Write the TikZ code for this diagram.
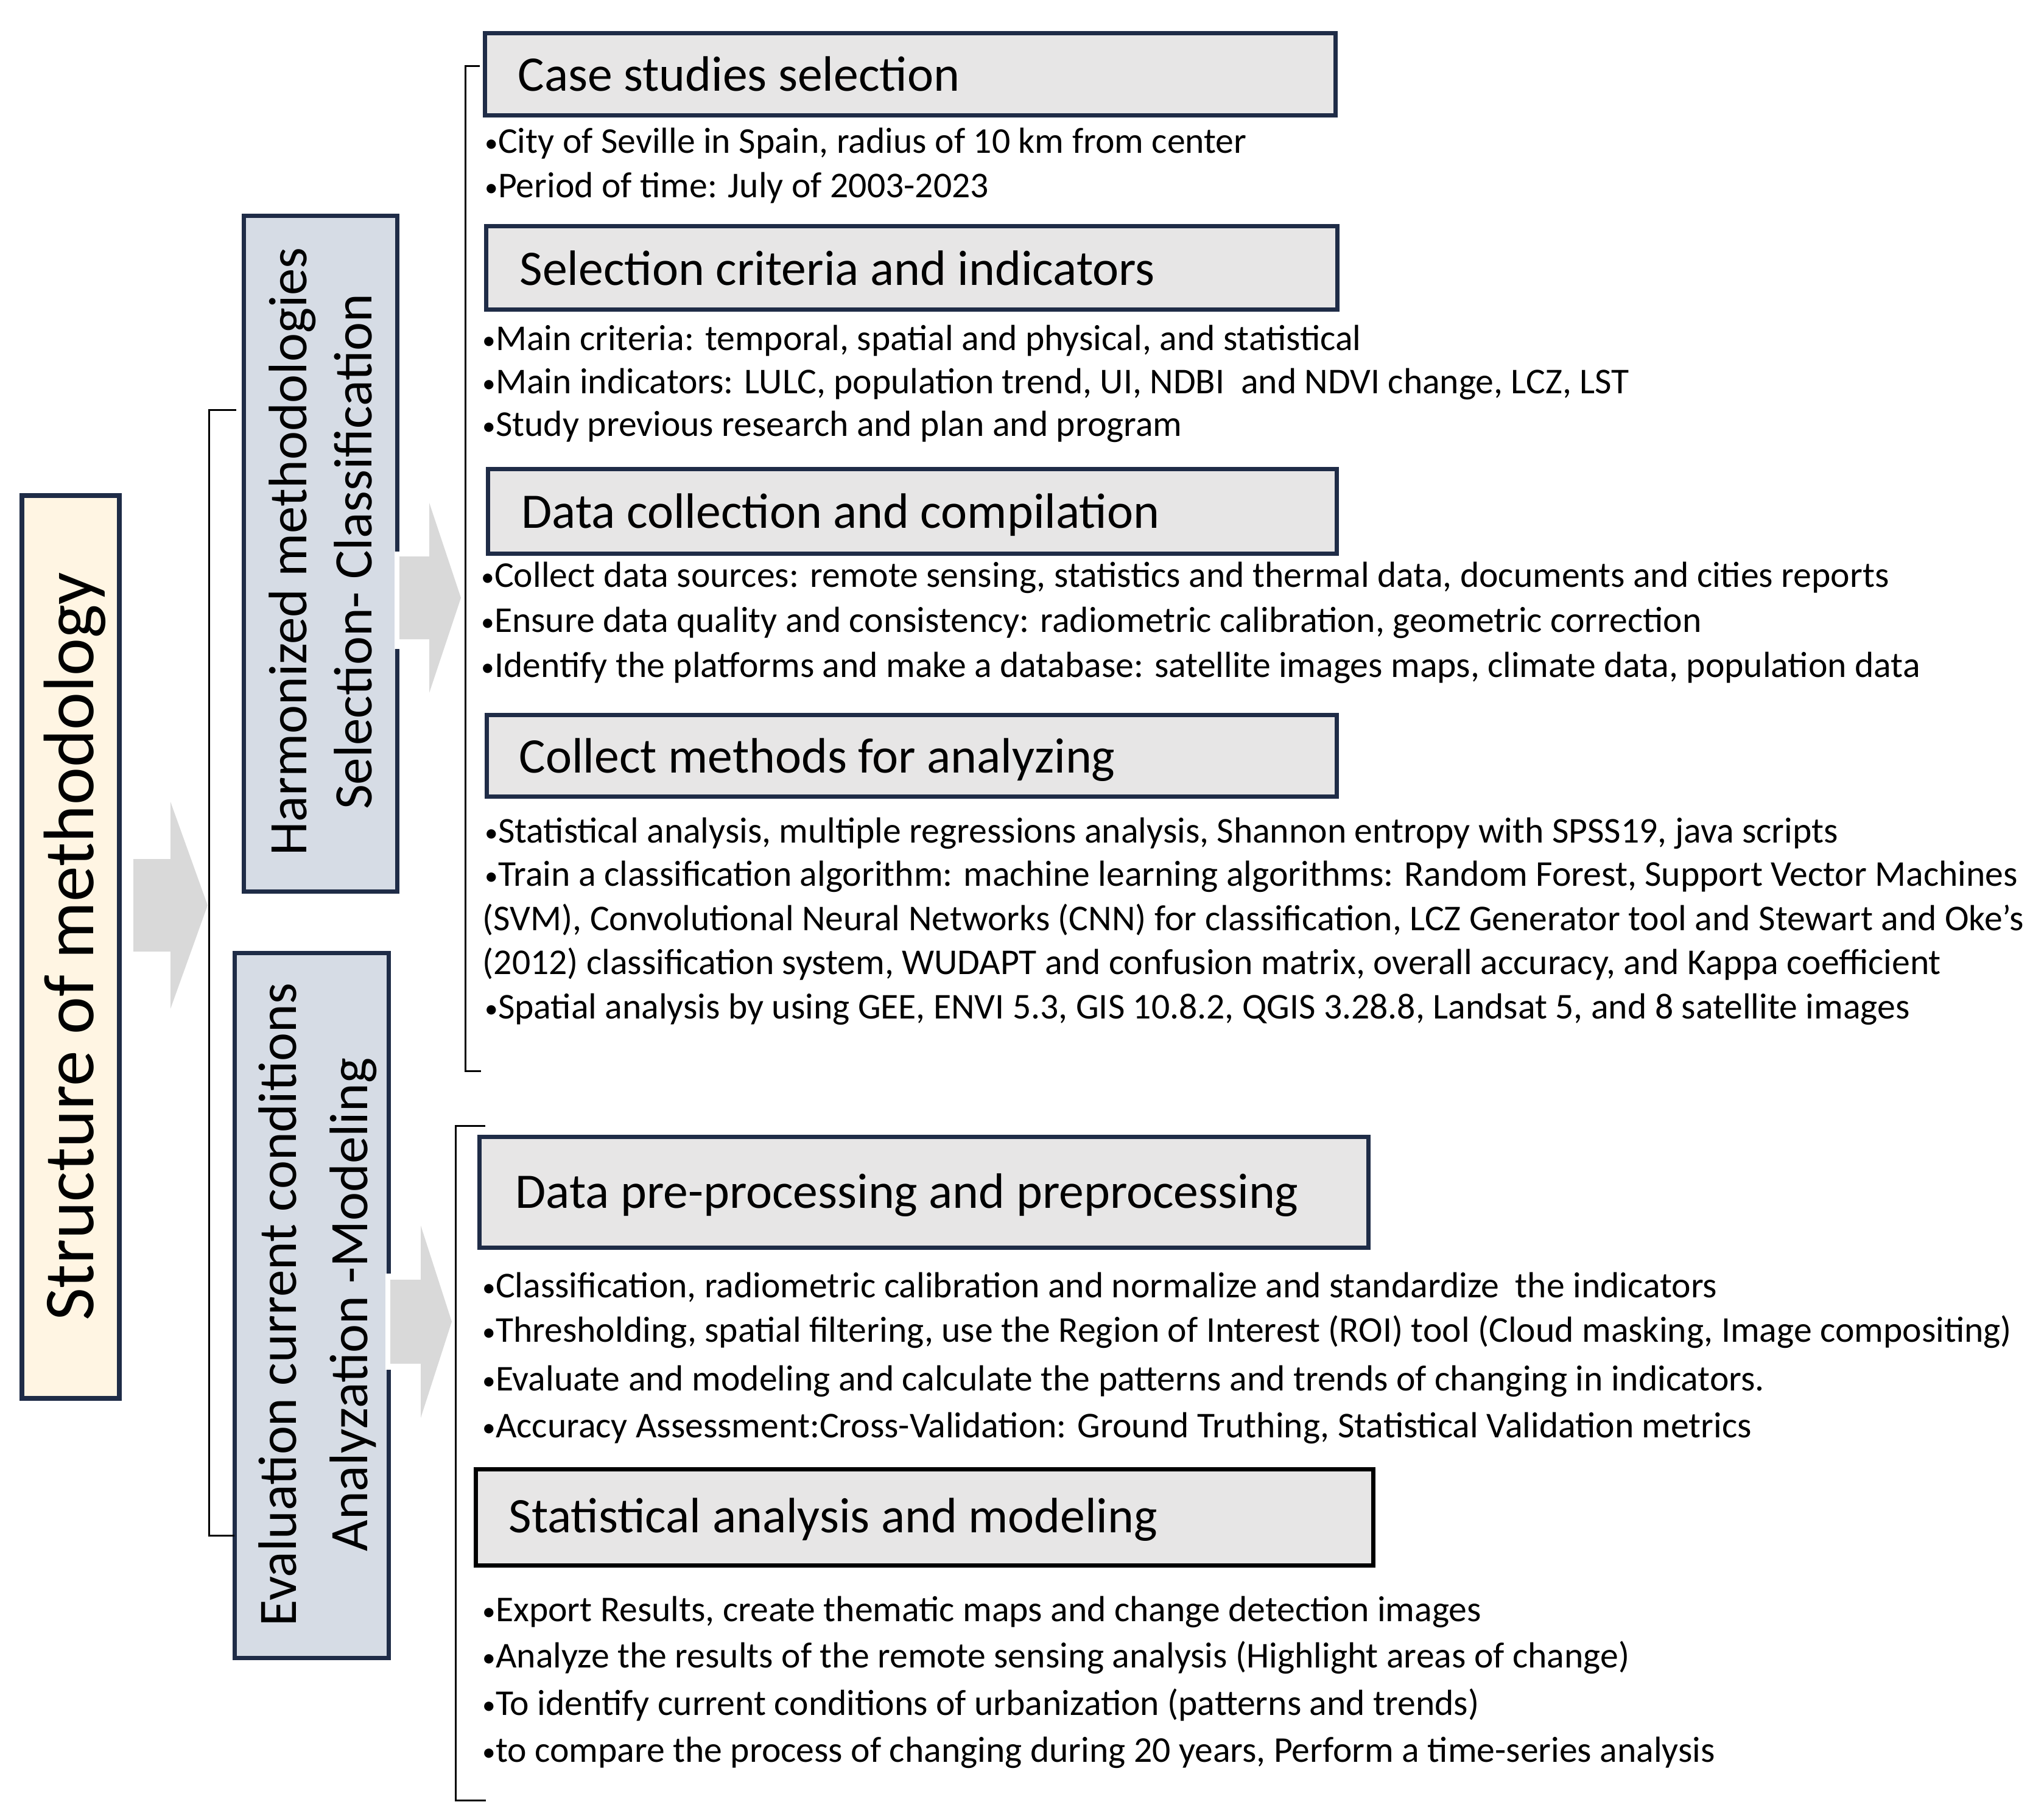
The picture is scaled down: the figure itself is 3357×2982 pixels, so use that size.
\documentclass[tikz,border=0pt]{standalone}
\usepackage{fontspec}
\setmainfont{Carlito}
\usetikzlibrary{fit}
\definecolor{navy}{HTML}{1F2C47}
\definecolor{cream}{HTML}{FFF5E3}
\definecolor{bluegray}{HTML}{D6DCE5}
\definecolor{lightgray}{HTML}{E7E6E6}
\definecolor{arrowgray}{HTML}{D9D9D9}
\newcommand\bul{\makebox[0.36em][l]{\fontsize{13pt}{13pt}\selectfont\raisebox{0.6pt}{•}}}
\begin{document}
\begin{tikzpicture}[x=0.3pt,y=-0.3pt,
  hbox/.style={draw=navy, fill=lightgray, line width=2.1pt, inner sep=0pt, outer sep=0pt},
  hboxk/.style={hbox, draw=black},
  vbox/.style={draw=navy, fill=bluegray, line width=2.1pt, inner sep=0pt, outer sep=0pt},
  sbox/.style={draw=navy, fill=cream, line width=2.4pt, inner sep=0pt, outer sep=0pt},
  title/.style={anchor=base west, inner sep=0pt, font=\fontsize{24.5pt}{28pt}\selectfont},
  body/.style={anchor=base west, inner sep=0pt, font=\fontsize{17.9pt}{21pt}\selectfont},
  vtext/.style={rotate=90, anchor=base, inner sep=0pt, font=\fontsize{26.7pt}{30pt}\selectfont},
  stext/.style={rotate=90, anchor=base, inner sep=0pt, font=\fontsize{35.2pt}{40pt}\selectfont},
  brk/.style={draw=black, line width=0.9pt},
  bigarrow/.style={fill=arrowgray}
]
\useasboundingbox (0,0) rectangle (3357,2982);

% left column
\node[sbox, fit={(36,814) (196,2297)}] (sbox) {};
\node[stext] (stxt) at (153,1555) {Structure of methodology};

\node[vbox, fit={(400.5,354.5) (652.5,1464.5)}] (harm) {};
\node[vtext] (harm1) at (503,906) {Harmonized methodologies};
\node[vtext] (harm2) at (610,906) {Selection- Classification};

\node[vbox, fit={(385.5,1565.5) (638.5,2723.5)}] (eval) {};
\node[vtext] (eval1) at (486,2143) {Evaluation current conditions};
\node[vtext] (eval2) at (603,2143) {Analyzation -Modeling};

% arrows
\fill[bigarrow] (219,1411) -- (280,1411) -- (280,1317) -- (341,1487) -- (280,1657) -- (280,1563) -- (219,1563) -- cycle;
\fill[white] (648,906) rectangle (662,1066);
\fill[bigarrow] (656,914) -- (705,914) -- (705,826) -- (757,982) -- (705,1138) -- (705,1050) -- (656,1050) -- cycle;
\fill[white] (633,2092) rectangle (647,2250);
\fill[bigarrow] (641,2102) -- (691,2102) -- (691,2013) -- (742,2171) -- (691,2329) -- (691,2240) -- (641,2240) -- cycle;

% brackets
\coordinate (bA1) at (388,673);
\coordinate (bA2) at (385,2522);
\draw[brk] (bA1) -- ++(-45,0) |- (bA2);
\coordinate (bB1) at (788,108);
\coordinate (bB2) at (790,1759);
\draw[brk] (bB1) -- ++(-24,0) |- (bB2);
\coordinate (bC1) at (797,1849);
\coordinate (bC2) at (798,2957);
\draw[brk] (bC1) -- ++(-49,0) |- (bC2);

% section 1
\node[hbox, fit={(796.5,54.5) (2193.5,189.5)}] (box1) {};
\node[title] (t1) at (850,149) {Case studies selection};
\node[body] (s1a) at (796,251) {\bul City of Seville in Spain, radius of 10 km from center};
\node[body] (s1b) at (796,324) {\bul Period of time: July of 2003-2023};

% section 2
\node[hbox, fit={(798.5,371.5) (2196.5,508.5)}] (box2) {};
\node[title] (t2) at (853,468) {Selection criteria and indicators};
\node[body] (s2a) at (792,575) {\bul Main criteria: temporal, spatial and physical, and statistical};
\node[body] (s2b) at (792,646) {\bul Main indicators: LULC, population trend, UI, NDBI\ \ and NDVI change, LCZ, LST};
\node[body] (s2c) at (792,716) {\bul Study previous research and plan and program};

% section 3
\node[hbox, fit={(801.5,770.5) (2195.5,909.5)}] (box3) {};
\node[title] (t3) at (856,867) {Data collection and compilation};
\node[body] (s3a) at (790,964) {\bul Collect data sources: remote sensing, statistics and thermal data, documents and cities reports};
\node[body] (s3b) at (790,1038) {\bul Ensure data quality and consistency: radiometric calibration, geometric correction};
\node[body] (s3c) at (790,1112) {\bul Identify the platforms and make a database: satellite images maps, climate data, population data};

% section 4
\node[hbox, fit={(799.5,1174.5) (2195.5,1308.5)}] (box4) {};
\node[title] (t4) at (852,1269) {Collect methods for analyzing};
\node[body] (s4a) at (796,1384) {\bul Statistical analysis, multiple regressions analysis, Shannon entropy with SPSS19, java scripts};
\node[body] (s4b) at (796,1455) {\bul Train a classification algorithm: machine learning algorithms: Random Forest, Support Vector Machines};
\node[body] (s4c) at (792,1528) {(SVM), Convolutional Neural Networks (CNN) for classification, LCZ Generator tool and Stewart and Oke’s};
\node[body] (s4d) at (792,1600) {(2012) classification system, WUDAPT and confusion matrix, overall accuracy, and Kappa coefficient};
\node[body] (s4e) at (796,1673) {\bul Spatial analysis by using GEE, ENVI 5.3, GIS 10.8.2, QGIS 3.28.8, Landsat 5, and 8 satellite images};

% section 5
\node[hbox, fit={(787.5,1867.5) (2247.5,2049.5)}] (box5) {};
\node[title] (t5) at (846,1984) {Data pre-processing and preprocessing};
\node[body] (s5a) at (792,2131) {\bul Classification, radiometric calibration and normalize and standardize\ \ the indicators};
\node[body] (s5b) at (792,2204) {\bul Thresholding, spatial filtering, use the Region of Interest (ROI) tool (Cloud masking, Image compositing)};
\node[body] (s5c) at (792,2284) {\bul Evaluate and modeling and calculate the patterns and trends of changing in indicators.};
\node[body] (s5d) at (792,2361) {\bul Accuracy Assessment:Cross-Validation: Ground Truthing, Statistical Validation metrics};

% section 6
\node[hboxk, fit={(781.5,2413.5) (2255.5,2571.5)}] (box6) {};
\node[title] (t6) at (835,2517) {Statistical analysis and modeling};
\node[body] (s6a) at (792,2663) {\bul Export Results, create thematic maps and change detection images};
\node[body] (s6b) at (792,2739) {\bul Analyze the results of the remote sensing analysis (Highlight areas of change)};
\node[body] (s6c) at (792,2817) {\bul To identify current conditions of urbanization (patterns and trends)};
\node[body] (s6d) at (792,2894) {\bul to compare the process of changing during 20 years, Perform a time-series analysis};
\end{tikzpicture}
\end{document}
